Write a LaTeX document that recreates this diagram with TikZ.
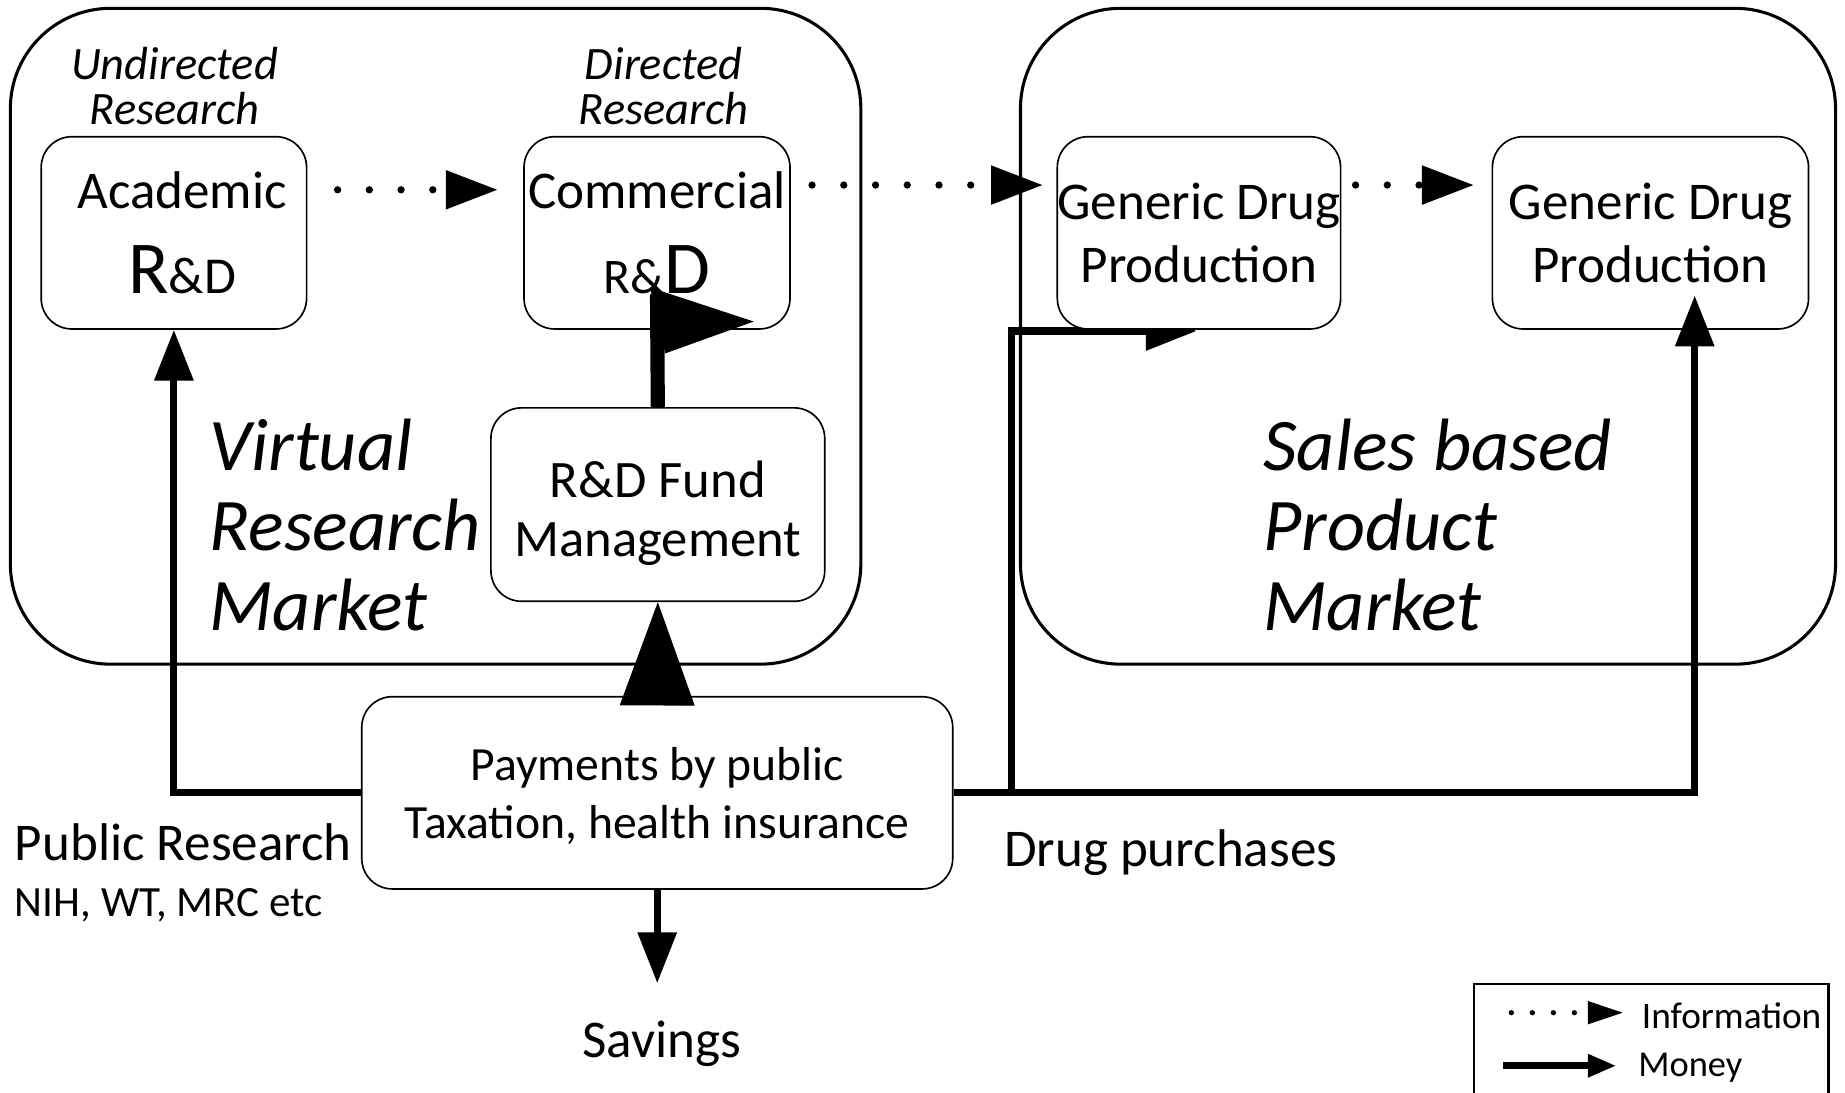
\documentclass[tikz,border=0pt]{standalone}
\usepackage{fontspec}
\setmainfont{Carlito}
\usetikzlibrary{arrows.meta, backgrounds}

\begin{document}
\begin{tikzpicture}[x=0.01cm, y=-0.01cm,
  panel/.style={draw, rounded corners=0.85cm, line width=0.026cm},
  box/.style={draw, fill=white, rounded corners=0.26cm, line width=0.014cm, minimum height=1.63cm, inner sep=0pt, align=center, font=\fontsize{12.8}{15.3}\selectfont},
  money/.style={line width=0.06cm, -{Triangle[length=0.43cm, width=0.32cm]}},
  info/.style={line width=0.062cm, line cap=round, dash pattern=on 0pt off 0.269cm, -{Triangle[length=0.44cm, width=0.317cm]}},
  mkt/.style={anchor=west, inner sep=0pt, align=left, font=\itshape\fontsize{17.9}{19.35}\selectfont},
  kind/.style={inner sep=0pt, align=center, font=\itshape\fontsize{11.2}{11}\selectfont},
  lbl/.style={anchor=base west, inner sep=0pt, font=\fontsize{12.8}{15}\selectfont}]
\useasboundingbox (0,0) rectangle (1565,927.1);
% the two markets
\node[panel, minimum width=7.21cm, minimum height=5.56cm] (vrm) at (369.5,285.2) {};
\node[panel, minimum width=6.91cm, minimum height=5.56cm] (sbm) at (1211.3,285.2) {};
\node[mkt] (vrmtxt) at (177,445.5) {Virtual\\Research\\Market};
\node[mkt] (sbmtxt) at (1071,445.5) {Sales based\\Product\\Market};
\node[kind] (undir) at (148,73) {Undirected\\Research};
\node[kind] (dir) at (563,73) {Directed\\Research};
% boxes
\node[box, minimum width=2.25cm] (acad) at (147.5,197.5) {\hspace*{0.14cm}Academic\\[5.2pt]\hspace*{0.14cm}{\fontsize{18}{18}\selectfont R}{\fontsize{12.5}{12.5}\selectfont\&D}};
\node[box, minimum width=2.255cm] (comm) at (557.3,197.5) {Commercial\\[5.2pt]{\fontsize{12}{12}\selectfont R\&}{\fontsize{18}{18}\selectfont D}};
\node[box, minimum width=2.40cm] (gen1) at (1017,197.5) {Generic Drug\\Production};
\node[box, minimum width=2.68cm] (gen2) at (1400,197.5) {Generic Drug\\Production};
\node[box, minimum width=2.83cm, minimum height=1.64cm, font=\fontsize{12.7}{14.1}\selectfont] (fund) at (558,428) {\rule{0pt}{13pt}R\&D Fund\\Management};
\node[box, minimum width=5.01cm, font=\fontsize{11.5}{14.1}\selectfont] (pay) at (557.5,672.5) {\rule{0pt}{9.5pt}Payments by public\\Taxation, health insurance};
\node[lbl] (pubres) at (12,730) {Public Research};
\node[lbl, font=\fontsize{10.4}{12}\selectfont] (funders) at (12,777.6) {NIH, WT, MRC etc};
\node[lbl] (drug) at (851,735) {Drug purchases};
\node[lbl, anchor=base] (save) at (561.5,896.6) {Savings};
% information flow
\foreach \a/\b/\dy/\s/\e in {acad/comm/0.365/0.256/0.216, comm/gen1/0.405/0.18/0.115, gen1/gen2/0.405/0.12/0.15}
  \draw[info, shorten <=\s cm, shorten >=\e cm] ([yshift=\dy cm]\a.east) -- ([yshift=\dy cm]\b.west);
% money flow
\draw[money] (pay.west) -| (acad.south);
\draw[money] (pay.east) -| ([xshift=0.375cm, yshift=0.29cm]gen2.south);
\coordinate (split) at ([xshift=0.49cm]pay.east);
\begin{scope}[on background layer]
\draw[money] (split) |- ([xshift=-0.02cm, yshift=-0.01cm]gen1.south);
\end{scope}
\draw[money, shorten >=0.31cm] (pay.south) -- (pay.south |- save.north);
\draw[line width=0.01cm, -{Triangle[length=0.876cm, width=0.633cm]}] ([yshift=-0.07cm]pay.north) -- (fund.south);
\draw[line width=0.12cm] (fund.north) -- ([yshift=0.3cm]comm.south);
\fill ([shift={(-0.06cm,0.36cm)}]comm.south) -- ++(0.88cm,-0.29cm) -- ++(-0.75cm,-0.27cm) -- cycle;
% legend
\draw[line width=0.018cm] (1250,835) rectangle (1551,960);
\coordinate (infoA) at (1282,859);
\coordinate (infoB) at (1377,859);
\coordinate (moneyA) at (1275,904);
\coordinate (moneyB) at (1371,904);
\draw[line width=0.045cm, line cap=round, dash pattern=on 0pt off 0.178cm, -{Triangle[length=0.30cm, width=0.184cm]}] (infoA) -- (infoB);
\draw[line width=0.057cm, -{Triangle[length=0.24cm, width=0.184cm]}] (moneyA) -- (moneyB);
\node[lbl, font=\fontsize{9}{11}\selectfont] (infotxt) at (1392,872) {Information};
\node[lbl, font=\fontsize{8.8}{11}\selectfont] (moneytxt) at (1389,913) {Money};
\end{tikzpicture}
\end{document}
